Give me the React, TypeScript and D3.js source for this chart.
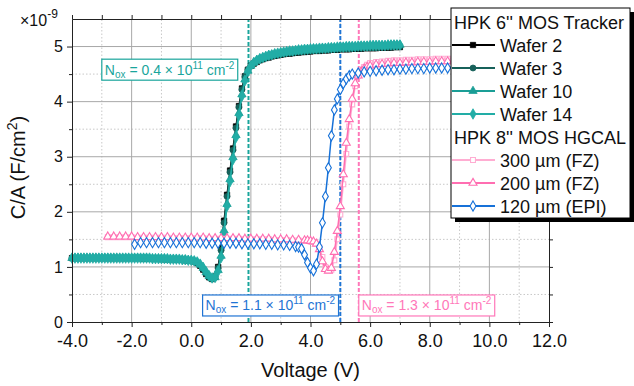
import { useEffect, useRef } from 'react';
import * as d3 from 'd3';

const W = 634;
const H = 386;
const margin = { top: 19, right: 85, bottom: 64, left: 72 };
const FONT = '"Liberation Sans", Arial, sans-serif';

// voltage sweep grids of the measurements
const sweep = (a: number, b: number, s: number) =>
  d3.range(Math.round((b - a) / s) + 1).map(i => +(a + i * s).toFixed(2));

const trackerV = sweep(-4, 7, 0.1);
const hgcalFzV = [...sweep(-2.8, 3.8, 0.2), ...sweep(3.9, 6.0, 0.1), ...sweep(6.2, 12, 0.2)];
const hgcalEpiV = [...sweep(-1.9, 3.5, 0.2), ...sweep(3.6, 5.4, 0.1), ...sweep(5.6, 12, 0.2)];

// C/A values in units of 1e-9 F/cm^2
const wafer2 = [
  1.16, 1.16, 1.16, 1.16, 1.16, 1.16, 1.16, 1.16, 1.16, 1.16,
  1.16, 1.16, 1.16, 1.16, 1.16, 1.16, 1.16, 1.16, 1.16, 1.16, 1.16,
  1.16, 1.16, 1.16, 1.15, 1.15, 1.15, 1.15, 1.15, 1.15, 1.14, 1.14, 1.14, 1.14, 1.14, 1.13,
  1.13, 1.13, 1.12, 1.12, 1.11, 1.10, 1.07,
  1.02, 0.95, 0.87, 0.81, 0.78, 0.82, 1.00, 1.34,
  1.84, 2.31, 2.75, 3.15, 3.55, 3.92, 4.24, 4.46, 4.58, 4.65,
  4.69, 4.72, 4.75, 4.77, 4.79, 4.80, 4.82, 4.83, 4.84, 4.85,
  4.86, 4.87, 4.87, 4.88, 4.89, 4.89, 4.90, 4.90, 4.91, 4.91,
  4.92, 4.92, 4.92, 4.93, 4.93, 4.93, 4.94, 4.94, 4.94, 4.95,
  4.95, 4.95, 4.95, 4.96, 4.96, 4.96, 4.96, 4.97, 4.97, 4.97,
  4.97, 4.97, 4.98, 4.98, 4.98, 4.98, 4.98, 4.99, 4.99, 4.99,
];
const wafer3 = [
  1.16, 1.16, 1.16, 1.16, 1.16, 1.16, 1.16, 1.16, 1.16, 1.16,
  1.16, 1.16, 1.16, 1.16, 1.16, 1.16, 1.16, 1.16, 1.16, 1.16, 1.16,
  1.16, 1.16, 1.16, 1.16, 1.15, 1.15, 1.15, 1.15, 1.15, 1.15, 1.14, 1.14, 1.14, 1.14, 1.13,
  1.13, 1.13, 1.12, 1.12, 1.11, 1.10, 1.08,
  1.03, 0.96, 0.88, 0.82, 0.79, 0.83, 0.98, 1.30,
  1.80, 2.28, 2.72, 3.12, 3.52, 3.90, 4.22, 4.45, 4.58, 4.66,
  4.70, 4.73, 4.76, 4.78, 4.80, 4.81, 4.83, 4.84, 4.85, 4.86,
  4.87, 4.88, 4.88, 4.89, 4.90, 4.90, 4.91, 4.91, 4.92, 4.92,
  4.93, 4.93, 4.93, 4.94, 4.94, 4.94, 4.95, 4.95, 4.95, 4.96,
  4.96, 4.96, 4.96, 4.97, 4.97, 4.97, 4.97, 4.98, 4.98, 4.98,
  4.98, 4.98, 4.99, 4.99, 4.99, 4.99, 4.99, 5.00, 5.00, 5.00,
];
const wafer10 = [
  1.16, 1.16, 1.16, 1.16, 1.16, 1.16, 1.16, 1.16, 1.16, 1.16,
  1.16, 1.16, 1.16, 1.16, 1.16, 1.16, 1.16, 1.16, 1.16, 1.16, 1.16,
  1.16, 1.16, 1.16, 1.16, 1.16, 1.15, 1.15, 1.15, 1.15, 1.15, 1.15, 1.14, 1.14, 1.14, 1.14,
  1.13, 1.13, 1.13, 1.12, 1.11, 1.10, 1.08,
  1.04, 0.98, 0.90, 0.83, 0.79, 0.81, 0.94, 1.20,
  1.66, 2.14, 2.59, 2.99, 3.39, 3.79, 4.13, 4.40, 4.56, 4.65,
  4.71, 4.75, 4.78, 4.80, 4.82, 4.84, 4.85, 4.86, 4.87, 4.88,
  4.89, 4.90, 4.91, 4.92, 4.92, 4.93, 4.94, 4.94, 4.95, 4.95,
  4.96, 4.96, 4.96, 4.97, 4.97, 4.97, 4.98, 4.98, 4.98, 4.99,
  4.99, 4.99, 5.00, 5.00, 5.00, 5.00, 5.01, 5.01, 5.01, 5.01,
  5.02, 5.02, 5.02, 5.02, 5.02, 5.02, 5.03, 5.03, 5.03, 5.03,
];
const wafer14 = [
  1.16, 1.16, 1.16, 1.16, 1.16, 1.16, 1.16, 1.16, 1.16, 1.16,
  1.16, 1.16, 1.16, 1.16, 1.16, 1.16, 1.16, 1.16, 1.16, 1.16, 1.16,
  1.16, 1.16, 1.16, 1.16, 1.16, 1.16, 1.15, 1.15, 1.15, 1.15, 1.15, 1.15, 1.14, 1.14, 1.14,
  1.14, 1.13, 1.13, 1.12, 1.12, 1.11, 1.09,
  1.05, 0.99, 0.91, 0.84, 0.80, 0.81, 0.92, 1.17,
  1.62, 2.10, 2.55, 2.95, 3.35, 3.75, 4.10, 4.38, 4.55, 4.65,
  4.71, 4.75, 4.78, 4.80, 4.82, 4.84, 4.85, 4.87, 4.88, 4.89,
  4.90, 4.91, 4.92, 4.92, 4.93, 4.94, 4.94, 4.95, 4.95, 4.96,
  4.96, 4.96, 4.97, 4.97, 4.97, 4.98, 4.98, 4.98, 4.99, 4.99,
  4.99, 5.00, 5.00, 5.00, 5.00, 5.01, 5.01, 5.01, 5.01, 5.02,
  5.02, 5.02, 5.02, 5.02, 5.02, 5.03, 5.03, 5.03, 5.03, 5.03,
];

const fz300 = [
  1.54, 1.54, 1.54, 1.54, 1.54, 1.53, 1.53, 1.53, 1.53, 1.53, 1.53, 1.52, 1.52, 1.52, 1.52, 1.52, 1.52,
  1.51, 1.51, 1.51, 1.51, 1.51, 1.51, 1.50, 1.50, 1.50, 1.50, 1.50, 1.49, 1.49, 1.49, 1.48, 1.48, 1.47,
  1.47, 1.46, 1.45, 1.42, 1.35, 1.18, 1.00, 0.94, 0.95, 1.12, 1.50,
  1.95, 2.50, 3.05, 3.55, 3.95, 4.28, 4.47, 4.57, 4.63, 4.67, 4.70,
  4.72, 4.73, 4.74, 4.75, 4.75, 4.76, 4.76, 4.77, 4.77, 4.77, 4.78, 4.78, 4.78, 4.78, 4.79,
  4.79, 4.79, 4.79, 4.79, 4.80, 4.80, 4.80, 4.80, 4.80, 4.80, 4.81, 4.81, 4.81, 4.81, 4.81,
];
const fz200 = [
  1.55, 1.55, 1.55, 1.55, 1.55, 1.54, 1.54, 1.54, 1.54, 1.54, 1.54, 1.53, 1.53, 1.53, 1.53, 1.53, 1.53,
  1.52, 1.52, 1.52, 1.52, 1.52, 1.52, 1.51, 1.51, 1.51, 1.51, 1.51, 1.50, 1.50, 1.50, 1.49, 1.49, 1.48,
  1.48, 1.47, 1.46, 1.42, 1.32, 1.10, 0.96, 0.93, 0.98, 1.27, 1.65,
  2.10, 2.68, 3.25, 3.68, 4.05, 4.33, 4.47, 4.55, 4.60, 4.63, 4.65,
  4.67, 4.68, 4.69, 4.70, 4.70, 4.71, 4.71, 4.72, 4.72, 4.72, 4.73, 4.73, 4.73, 4.73, 4.74,
  4.74, 4.74, 4.74, 4.74, 4.75, 4.75, 4.75, 4.75, 4.75, 4.75, 4.76, 4.76, 4.76, 4.76, 4.76,
];
const epi120 = [
  1.41, 1.44, 1.44, 1.44, 1.44, 1.44, 1.44, 1.44, 1.44, 1.44, 1.44, 1.44, 1.43, 1.43,
  1.43, 1.43, 1.43, 1.43, 1.42, 1.42, 1.42, 1.42, 1.41, 1.41, 1.40, 1.40, 1.39, 1.37,
  1.36, 1.33, 1.22, 1.08, 0.98, 0.93, 1.05, 1.36, 1.80, 2.28,
  2.80, 3.38, 3.85, 4.05, 4.22, 4.33, 4.41, 4.47, 4.50,
  4.52, 4.54, 4.55, 4.56, 4.57, 4.58, 4.58, 4.59, 4.59, 4.60, 4.60, 4.60, 4.61, 4.61, 4.61, 4.61,
  4.62, 4.62, 4.62, 4.62, 4.62, 4.63, 4.63, 4.63, 4.63, 4.63, 4.63, 4.64, 4.64, 4.64, 4.64, 4.64, 4.64,
];

const series = [
  { name: 'Wafer 2', v: trackerV, c: wafer2, color: '#000000', symbol: d3.symbolSquare, size: 28, hollow: false },
  { name: 'Wafer 3', v: trackerV, c: wafer3, color: '#17615a', symbol: d3.symbolCircle, size: 28, hollow: false },
  { name: 'Wafer 10', v: trackerV, c: wafer10, color: '#1a9e96', symbol: d3.symbolTriangle, size: 30, hollow: false },
  { name: 'Wafer 14', v: trackerV, c: wafer14, color: '#22ada6', symbol: d3.symbolDiamond, size: 32, hollow: false },
  { name: '300 µm (FZ)', v: hgcalFzV, c: fz300, color: '#ffadd2', symbol: d3.symbolSquare, size: 24, hollow: true },
  { name: '200 µm (FZ)', v: hgcalFzV, c: fz200, color: '#ff6eb1', symbol: d3.symbolTriangle, size: 28, hollow: true },
  { name: '120 µm (EPI)', v: hgcalEpiV, c: epi120, color: '#1671d8', symbol: d3.symbolDiamond, size: 30, hollow: true },
];

// flat-band voltage markers and their N_ox labels
const noxLines = [
  { v: 1.92, label: '0.4', color: '#1aa59c', box: -3.0, side: 'left', c: 4.58 },
  { v: 5.0, label: '1.1', color: '#1f74d4', box: 4.94, side: 'right', c: 0.3 },
  { v: 5.62, label: '1.3', color: '#ff78b9', box: 5.62, side: 'left', c: 0.3 },
];

const legendHeaders = ["HPK 6'' MOS Tracker", "HPK 8'' MOS HGCAL"];

export default function App() {
  const svgRef = useRef<SVGSVGElement>(null);

  useEffect(() => {
    const svg = d3.select(svgRef.current);
    svg.selectAll('*').remove();

    const x = d3.scaleLinear().domain([-4, 12]).range([margin.left, W - margin.right]);
    const y = d3.scaleLinear().domain([0, 5.5]).range([H - margin.bottom, margin.top]);
    const [x0, x1] = x.range();
    const [y0, y1] = y.range();

    svg.append('rect').attr('width', W).attr('height', H).attr('fill', '#fff');

    // grid
    const grid = svg.append('g');
    const xMinor = d3.range(-3, 12, 2);
    const xMajor = d3.range(-2, 12, 2);
    const yMinor = d3.range(0.5, 5.5, 1);
    const yMajor = d3.range(1, 6, 1);
    grid.selectAll('.gxm').data(xMinor).join('line')
      .attr('x1', d => x(d)).attr('x2', d => x(d)).attr('y1', y0).attr('y2', y1)
      .attr('stroke', '#c8c8c8').attr('stroke-dasharray', '1.5,2');
    grid.selectAll('.gym').data(yMinor).join('line')
      .attr('y1', d => y(d)).attr('y2', d => y(d)).attr('x1', x0).attr('x2', x1)
      .attr('stroke', '#c8c8c8').attr('stroke-dasharray', '1.5,2');
    grid.selectAll('.gxM').data(xMajor).join('line')
      .attr('x1', d => x(d)).attr('x2', d => x(d)).attr('y1', y0).attr('y2', y1)
      .attr('stroke', '#a8a8a8');
    grid.selectAll('.gyM').data(yMajor).join('line')
      .attr('y1', d => y(d)).attr('y2', d => y(d)).attr('x1', x0).attr('x2', x1)
      .attr('stroke', '#a8a8a8');

    // dashed N_ox lines
    svg.selectAll('.nox').data(noxLines).join('line')
      .attr('x1', d => x(d.v)).attr('x2', d => x(d.v)).attr('y1', y0).attr('y2', y1)
      .attr('stroke', d => d.color).attr('stroke-width', 2).attr('stroke-dasharray', '4,2');

    // curves
    series.forEach(s => {
      const pts = s.v.map((v, i) => [v, s.c[i]] as [number, number]);
      const line = d3.line<[number, number]>().x(d => x(d[0])).y(d => y(d[1]));
      svg.append('path').attr('d', line(pts)).attr('fill', 'none')
        .attr('stroke', s.color).attr('stroke-width', 1.5);
      svg.append('g').selectAll('path').data(pts).join('path')
        .attr('transform', d => `translate(${x(d[0])},${y(d[1])})`)
        .attr('d', d3.symbol(s.symbol, s.size)())
        .attr('fill', s.hollow ? '#fff' : s.color)
        .attr('stroke', s.color).attr('stroke-width', s.hollow ? 1.1 : 0.8);
    });

    // N_ox annotation boxes
    noxLines.forEach(n => {
      const g = svg.append('g');
      const rect = g.append('rect');
      const t = g.append('text').attr('font-family', FONT).attr('font-size', 14).attr('fill', n.color)
        .attr('x', 0).attr('y', 0);
      t.append('tspan').text('N');
      t.append('tspan').attr('font-size', 10).attr('dy', 3).text('ox');
      t.append('tspan').attr('dy', -3).text(` = ${n.label} × 10`);
      t.append('tspan').attr('font-size', 10).attr('dy', -6).text('11');
      t.append('tspan').attr('dy', 6).text(' cm');
      t.append('tspan').attr('font-size', 10).attr('dy', -6).text('-2');
      const bb = (t.node() as SVGTextElement).getBBox();
      const bw = bb.width + 6;
      const bh = 21;
      const left = n.side === 'left' ? x(n.box) : x(n.box) - bw;
      const top = y(n.c) - bh / 2;
      rect.attr('x', left).attr('y', top).attr('width', bw).attr('height', bh)
        .attr('fill', '#fff').attr('stroke', n.color).attr('stroke-width', 1.2);
      t.attr('x', left + 3).attr('y', top + 15.5);
    });

    // axes
    const axisStyle = (g: any) => {
      g.selectAll('.domain').attr('stroke', '#222');
      g.selectAll('line').attr('stroke', '#222');
      g.selectAll('text').attr('font-family', FONT).attr('fill', '#111');
    };
    const fmt = d3.format('.1f');
    svg.append('g').attr('transform', `translate(0,${y0})`)
      .call(d3.axisBottom(x).tickValues(d3.range(-4, 13, 2)).tickSize(5).tickSizeOuter(0).tickPadding(7).tickFormat(d => fmt(d as number).replace('−', '-')))
      .call(axisStyle)
      .call(g => g.selectAll('text').attr('font-size', 18));
    svg.append('g').attr('transform', `translate(0,${y0})`)
      .call(d3.axisBottom(x).tickValues(xMinor).tickSize(3).tickSizeOuter(0).tickFormat(() => ''))
      .call(axisStyle);
    svg.append('g').attr('transform', `translate(0,${y1})`)
      .call(d3.axisTop(x).tickValues(d3.range(-4, 13, 1)).tickSize(4).tickSizeOuter(0).tickFormat(() => ''))
      .call(axisStyle);
    svg.append('g').attr('transform', `translate(${x0},0)`)
      .call(d3.axisLeft(y).tickValues(d3.range(0, 6, 1)).tickSize(5).tickSizeOuter(0).tickPadding(4).tickFormat(d3.format('d')))
      .call(axisStyle)
      .call(g => g.selectAll('text').attr('font-size', 16));
    svg.append('g').attr('transform', `translate(${x0},0)`)
      .call(d3.axisLeft(y).tickValues(yMinor).tickSize(3).tickSizeOuter(0).tickFormat(() => ''))
      .call(axisStyle);
    svg.append('g').attr('transform', `translate(${x1},0)`)
      .call(d3.axisRight(y).tickValues(d3.range(0, 5.6, 0.5)).tickSize(4).tickSizeOuter(0).tickFormat(() => ''))
      .call(axisStyle);

    // multiplier
    const mult = svg.append('text').attr('font-family', FONT).attr('font-size', 16).attr('fill', '#111')
      .attr('x', 20).attr('y', 26);
    mult.append('tspan').text('×10');
    mult.append('tspan').attr('font-size', 12).attr('dy', -8).text('-9');

    // axis titles
    svg.append('text').attr('font-family', FONT).attr('font-size', 20).attr('fill', '#111')
      .attr('text-anchor', 'middle').attr('x', (x0 + x1) / 2).attr('y', 377).text('Voltage (V)');
    const yl = svg.append('text').attr('font-family', FONT).attr('font-size', 20).attr('fill', '#111')
      .attr('text-anchor', 'middle')
      .attr('transform', `translate(25,${(y0 + y1) / 2 - 3}) rotate(-90)`);
    yl.append('tspan').text('C/A (F/cm');
    yl.append('tspan').attr('font-size', 14).attr('dy', -8).text('2');
    yl.append('tspan').attr('dy', 8).text(')');

    // legend
    const lg = svg.append('g');
    const lx = 451, ly = 8, lw = 179, lh = 210;
    lg.append('rect').attr('x', lx + 4).attr('y', ly + 4).attr('width', lw).attr('height', lh).attr('fill', '#000');
    lg.append('rect').attr('x', lx).attr('y', ly).attr('width', lw).attr('height', lh)
      .attr('fill', '#fff').attr('stroke', '#000').attr('stroke-width', 1);
    const rows: any[] = [
      { header: legendHeaders[0] },
      ...series.slice(0, 4),
      { header: legendHeaders[1] },
      ...series.slice(4),
    ];
    rows.forEach((r, i) => {
      const cy = ly + 14 + i * 23;
      if (r.header) {
        lg.append('text').attr('font-family', FONT).attr('font-size', 18).attr('fill', '#111')
          .attr('x', lx + 3).attr('y', cy + 6.5).text(r.header);
        return;
      }
      lg.append('line').attr('x1', lx + 1).attr('x2', lx + 44).attr('y1', cy).attr('y2', cy)
        .attr('stroke', r.color).attr('stroke-width', 1.8);
      lg.append('path').attr('transform', `translate(${lx + 22},${cy})`)
        .attr('d', d3.symbol(r.symbol, r.size)())
        .attr('fill', r.hollow ? '#fff' : r.color).attr('stroke', r.color).attr('stroke-width', r.hollow ? 1.1 : 0.8);
      lg.append('text').attr('font-family', FONT).attr('font-size', 18).attr('fill', '#111')
        .attr('x', lx + 49).attr('y', cy + 6.5).text(r.name);
    });
  }, []);

  return (
    <svg ref={svgRef} width={W} height={H} style={{ position: 'absolute', left: 0, top: 0 }} />
  );
}
